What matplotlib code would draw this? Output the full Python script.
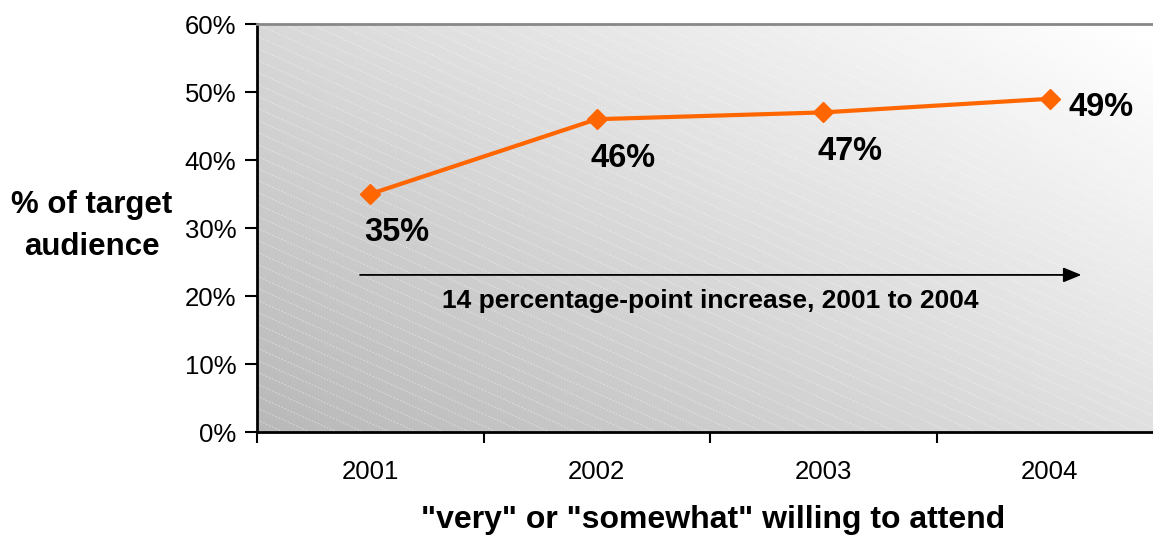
"""Line chart of willingness to attend, 2001 to 2004."""

import matplotlib

matplotlib.use("Agg")

import matplotlib.pyplot as plt
import numpy as np
from matplotlib.colors import LinearSegmentedColormap
from matplotlib.ticker import FixedLocator, FuncFormatter

YEARS = ["2001", "2002", "2003", "2004"]
WILLING_PCT = [35, 46, 47, 49]
Y_TICKS = [0, 10, 20, 30, 40, 50, 60]

ORANGE = "#FF6600"
FONT = ["Liberation Sans", "DejaVu Sans"]
NARROW_FONT = ["Liberation Sans Narrow", "Liberation Sans", "DejaVu Sans"]

plt.rcParams["font.family"] = FONT

W, H = 1153, 536
fig = plt.figure(figsize=(W / 100, H / 100), dpi=100)

# plot area runs a little past the right edge of the figure
left, right, top, bottom = 257, 1163, 24, 432
ax = fig.add_axes([left / W, 1 - bottom / H, (right - left) / W, (bottom - top) / H])

x = np.arange(1, len(YEARS) + 1)
ax.set_xlim(0.5, len(YEARS) + 0.5)
ax.set_ylim(0, 60)

# grey diagonal gradient backdrop
u, v = np.meshgrid(np.linspace(0, 1, 200), np.linspace(0, 1, 200))
shade = 184 + 40 * u + 32 * v
cmap = LinearSegmentedColormap.from_list("bg", ["#000000", "#ffffff"])
ax.imshow(shade, extent=(0, 1, 0, 1), origin="lower", transform=ax.transAxes,
          cmap=cmap, vmin=0, vmax=255, aspect="auto", zorder=0,
          interpolation="bilinear")

# faint white diagonal hatching
for c in np.arange(0, 2.05, 0.0294):
    ax.plot([0, 1], [c, c - 1], transform=ax.transAxes, color="white",
            alpha=0.4, lw=0.8, ls=(0, (1.5, 1.5)), zorder=1, clip_on=True)

ax.plot(x, WILLING_PCT, color=ORANGE, lw=3, marker="D", markersize=10,
        markeredgecolor=ORANGE, zorder=3, clip_on=False)

offsets = [(19, -28), (19, -28), (19, -28), (37, -6)]
for xi, val, off in zip(x, WILLING_PCT, offsets):
    ax.annotate(f"{val}%", (xi, val), xytext=off, textcoords="offset points",
                ha="center", va="center", fontsize=23.5, fontweight="bold",
                color="black", zorder=4)

# arrow marking the overall rise
ax.annotate("", xy=(4.14, 23.1), xytext=(0.955, 23.1),
            arrowprops=dict(arrowstyle="-|>,head_length=1.1,head_width=0.45",
                            color="black", lw=1.3, shrinkA=0, shrinkB=0),
            zorder=4)
ax.text(2.5, 19.2, "14 percentage-point increase, 2001 to 2004",
        ha="center", va="center", fontsize=19, fontweight="bold",
        family=NARROW_FONT, zorder=4)

ax.yaxis.set_major_locator(FixedLocator(Y_TICKS))
ax.yaxis.set_major_formatter(FuncFormatter(lambda val, _: f"{val:.0f}%"))
ax.tick_params(axis="y", direction="out", length=9, width=1.5,
               labelsize=18.5, pad=6)

ax.xaxis.set_major_locator(FixedLocator(np.arange(0.5, len(YEARS) + 1, 1)))
ax.xaxis.set_major_formatter(FuncFormatter(lambda val, _: ""))
ax.xaxis.set_minor_locator(FixedLocator(x))
ax.set_xticks(x, YEARS, minor=True)
ax.tick_params(axis="x", which="major", direction="out", length=8, width=1.5)
ax.tick_params(axis="x", which="minor", length=0, labelsize=18.5, pad=20)

for side in ("left", "bottom"):
    ax.spines[side].set_linewidth(2)
    ax.spines[side].set_color("black")
ax.spines["top"].set_color("#888888")
ax.spines["top"].set_linewidth(2)
ax.spines["right"].set_visible(False)

fig.text(92 / W, 1 - 226 / H, "% of target\naudience", ha="center",
         va="center", fontsize=22.5, fontweight="bold", linespacing=1.5)
fig.text(713 / W, 1 - 520 / H, '"very" or "somewhat" willing to attend',
         ha="center", va="center", fontsize=23, fontweight="bold")

fig.savefig("out.png", dpi=100)
